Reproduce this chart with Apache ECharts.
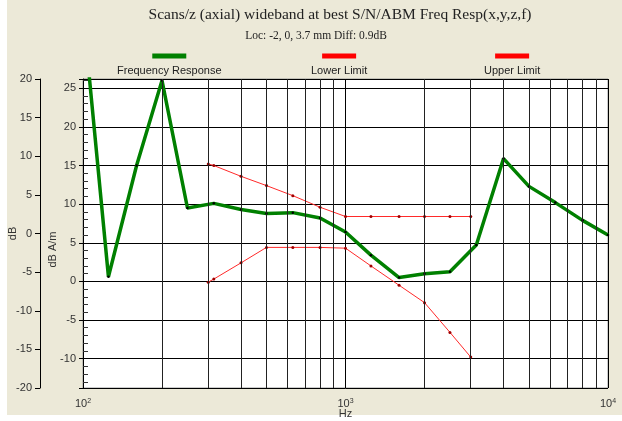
<!DOCTYPE html>
<html><head><meta charset="utf-8">
<script src="https://cdn.jsdelivr.net/npm/echarts@6/dist/echarts.min.js"></script>
<style>
html,body{margin:0;padding:0;background:#fff;}
#c{width:622px;height:421px;background:#ECE9D8;box-shadow:inset 7px -6px 0 #fff;}
</style></head><body><div id="c"></div>
<script>
// ---- data ----
const freqResp = [100,125,160,200,250,315,400,500,630,800,1000,1250,1600,2000,2500,3150,4000,5000,6300,8000,10000];
const respValues = [35,0.6,15,26,9.5,10.1,9.3,8.8,8.9,8.2,6.4,3.4,0.5,1.0,1.25,4.7,15.9,12.3,10.2,7.9,6.0];
const freqLimits = [300,315,400,500,630,800,1000,1250,1600,2000,2500,3000];
const upperValues = [15.2,15.0,13.6,12.4,11.1,9.6,8.4,8.4,8.4,8.4,8.4,8.4];
const lowerValues = [-0.1,0.3,2.4,4.4,4.4,4.4,4.3,2.0,-0.5,-2.75,-6.6,-9.8];
const minorFreqs = [200,300,400,500,600,700,800,900,2000,3000,4000,5000,6000,7000,8000,9000];
const seriesNames = ['Frequency Response','Lower Limit','Upper Limit'];
const titleText = 'Scans/z (axial) wideband at best S/N/ABM Freq Resp(x,y,z,f)';
const subText = 'Loc: -2, 0, 3.7 mm Diff: 0.9dB';

const FONT = 'Liberation Sans';
const zip = (xs, ys) => xs.map((x, i) => [x, ys[i]]);

function legendFor(name, color, left) {
  return {
    data: [{name: name}], left: left, top: 50, padding: 0,
    itemWidth: 0, itemHeight: 0, itemGap: 0, itemStyle: {opacity: 0},
    selectedMode: false,
    formatter: n => '{bar|}\n{t|' + n + '}',
    textStyle: {
      rich: {
        bar: {width: 34, height: 5, backgroundColor: color, align: 'center'},
        t: {fontSize: 11, fontFamily: FONT, color: '#222', lineHeight: 24, align: 'center'}
      }
    }
  };
}

const chart = echarts.init(document.getElementById('c'), null, {renderer: 'canvas'});
chart.setOption({
  animation: false,
  backgroundColor: 'transparent',
  textStyle: {fontFamily: FONT},
  title: [
    {text: titleText, left: 340, top: 7, textAlign: 'center', padding: 0,
     textStyle: {fontFamily: 'Liberation Serif', fontSize: 15.5, fontWeight: 'normal', color: '#222'}},
    {text: subText, left: 316, top: 30, textAlign: 'center', padding: 0,
     textStyle: {fontFamily: 'Liberation Serif', fontSize: 11.5, fontWeight: 'normal', color: '#222'}}
  ],
  legend: [
    legendFor(seriesNames[0], '#008000', 111),
    legendFor(seriesNames[1], '#ff0000', 305),
    legendFor(seriesNames[2], '#ff0000', 478)
  ],
  grid: {left: 83, right: 14, top: 79, bottom: 33, show: true, backgroundColor: '#fff',
         borderColor: '#999', borderWidth: 1, containLabel: false, outerBoundsMode: 'none'},
  xAxis: {
    type: 'log', logBase: 10, min: 100, max: 10000,
    axisLine: {lineStyle: {color: '#000'}},
    axisTick: {show: true, length: 5, lineStyle: {color: '#000'}},
    splitLine: {show: true, lineStyle: {color: '#000'}},
    axisLabel: {
      margin: 10,
      formatter: v => '{b|10}{s|' + Math.round(Math.log10(v)) + '}',
      rich: {
        b: {fontSize: 11, fontFamily: FONT, color: '#333'},
        s: {fontSize: 7, fontFamily: FONT, color: '#333', verticalAlign: 'top', padding: [0, 0, 4, 0]}
      }
    },
    name: 'Hz', nameLocation: 'middle', nameGap: 20, nameMoveOverlap: false,
    nameTextStyle: {fontSize: 11, fontFamily: FONT, color: '#333'}
  },
  yAxis: [
    {
      type: 'value', min: -13.8, max: 26.2, splitNumber: 8, position: 'left',
      axisLine: {show: true, lineStyle: {color: '#000'}},
      axisTick: {show: true, inside: true, length: 5, lineStyle: {color: '#000'}},
      minorTick: {show: true, splitNumber: 5, length: 5, lineStyle: {color: '#333'}},
      splitLine: {show: true, lineStyle: {color: '#000'}},
      axisLabel: {
        margin: 7, fontSize: 11, color: '#333', showMinLabel: false, showMaxLabel: false,
        formatter: v => (Math.abs(v / 5 - Math.round(v / 5)) < 1e-6 ? String(Math.round(v)) : '')
      },
      name: 'dB A/m', nameLocation: 'middle', nameGap: 25, nameMoveOverlap: false,
      nameTextStyle: {fontSize: 11, color: '#333', padding: [0, 32, 0, 0]}
    },
    {
      type: 'value', min: -20, max: 20, interval: 5, position: 'left', offset: 43,
      axisLine: {show: true, lineStyle: {color: '#000'}},
      axisTick: {show: true, length: 5, lineStyle: {color: '#000'}},
      splitLine: {show: false},
      axisLabel: {margin: 8, fontSize: 11, color: '#333'},
      name: 'dB', nameLocation: 'middle', nameGap: 22, nameMoveOverlap: false,
      nameTextStyle: {fontSize: 11, color: '#333'}
    },
    {
      type: 'value', min: -13.8, max: 26.2, splitNumber: 8, position: 'left',
      axisLine: {show: false},
      axisTick: {show: true, length: 4, lineStyle: {color: '#000'}},
      axisLabel: {show: false}, splitLine: {show: false}
    }
  ],
  series: [
    {
      type: 'line', data: [], z: 1, silent: true,
      markLine: {
        silent: true, symbol: ['none', 'none'], label: {show: false}, animation: false,
        lineStyle: {color: '#222', width: 1, type: 'solid'},
        emphasis: {disabled: true},
        data: minorFreqs.map(f => ({xAxis: f}))
      }
    },
    {
      name: seriesNames[1], type: 'line', yAxisIndex: 0, z: 3,
      data: zip(freqLimits, lowerValues),
      symbol: 'circle', symbolSize: 3, showAllSymbol: true,
      lineStyle: {color: '#ff2a2a', width: 1}, itemStyle: {color: '#a00000'},
      emphasis: {disabled: true}
    },
    {
      name: seriesNames[2], type: 'line', yAxisIndex: 0, z: 3,
      data: zip(freqLimits, upperValues),
      symbol: 'circle', symbolSize: 3, showAllSymbol: true,
      lineStyle: {color: '#ff2a2a', width: 1}, itemStyle: {color: '#a00000'},
      emphasis: {disabled: true}
    },
    {
      name: seriesNames[0], type: 'line', yAxisIndex: 0, z: 4,
      data: zip(freqResp, respValues),
      symbol: 'circle', symbolSize: 2.5, showAllSymbol: true,
      lineStyle: {color: '#008000', width: 3.5}, itemStyle: {color: '#000'},
      emphasis: {disabled: true}
    }
  ]
});
</script></body></html>
